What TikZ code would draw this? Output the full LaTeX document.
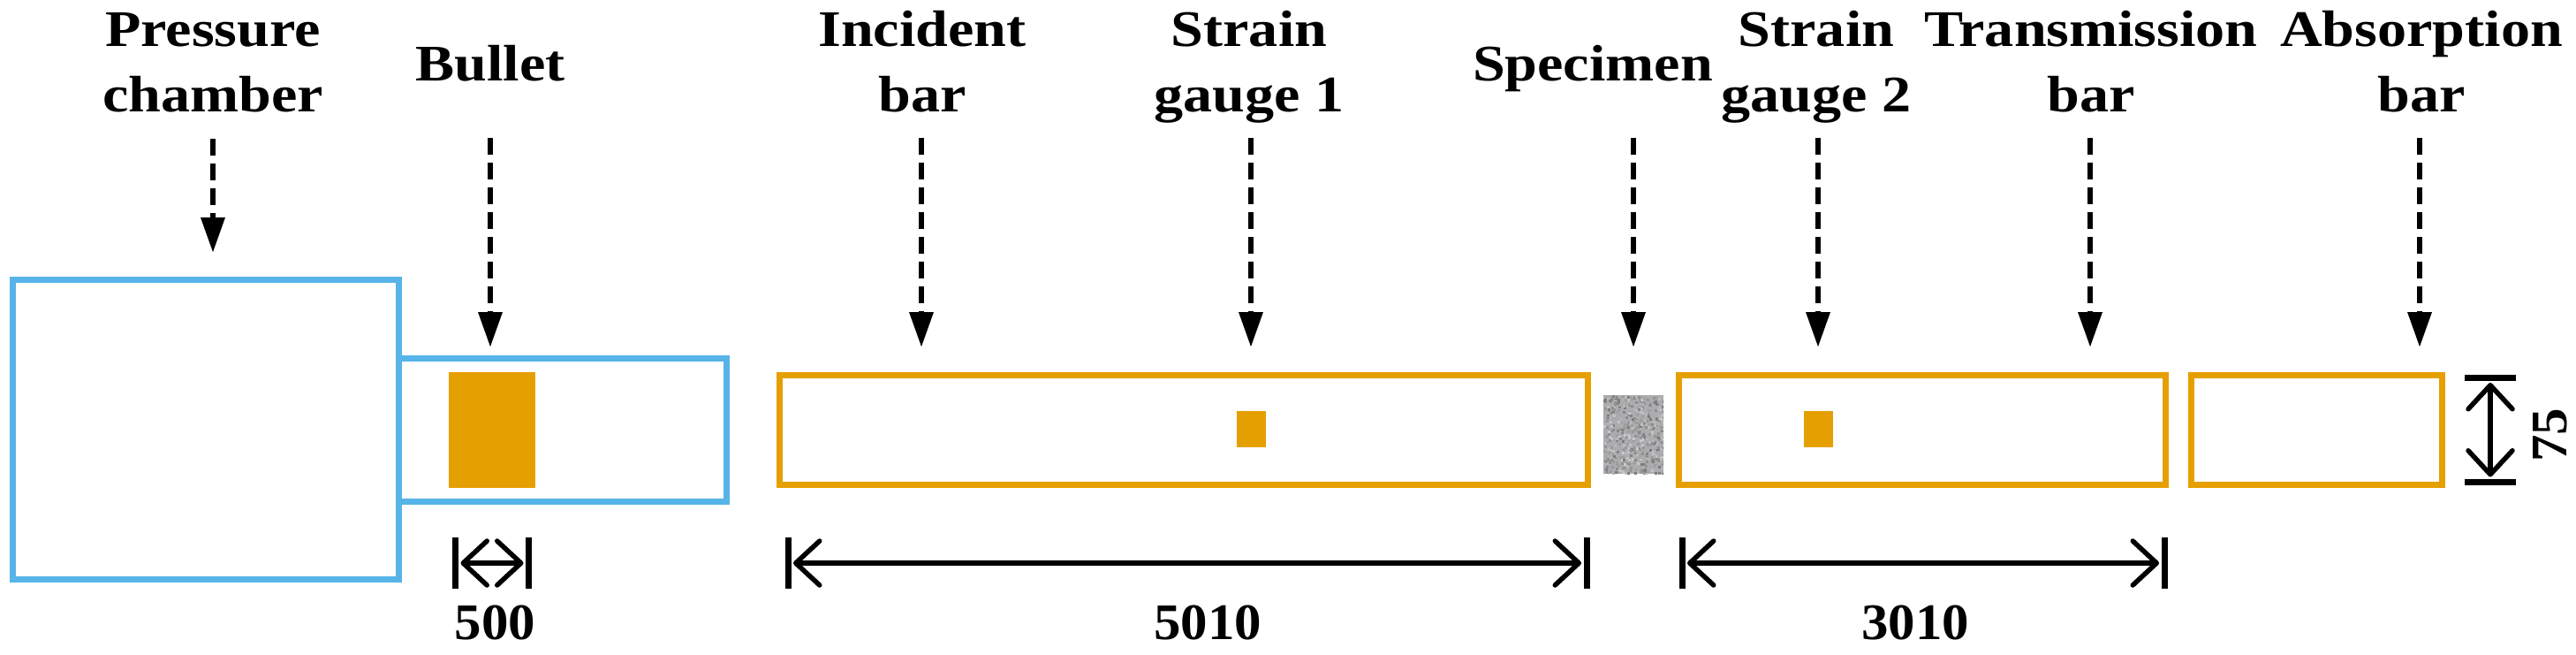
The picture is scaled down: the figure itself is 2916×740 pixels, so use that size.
\documentclass[tikz,border=0pt]{standalone}
\usepackage{fontspec}
\setmainfont[FakeStretch=1.14]{Liberation Serif}
\newfontfamily\numfont[FakeStretch=1.05]{Liberation Serif}
\usetikzlibrary{arrows.meta}
\definecolor{blueline}{RGB}{86,180,233}
\definecolor{orangeline}{RGB}{230,159,0}
\tikzset{
  x=1pt,y=-1pt,
  lbl/.style={font=\fontsize{58}{74}\selectfont\bfseries,align=center,anchor=base,inner sep=0pt,text=black},
  dimlbl/.style={font=\fontsize{58}{74}\selectfont\numfont\bfseries,anchor=base,inner sep=0pt,text=black},
  callout/.style={line width=6.5pt,dash pattern=on 19pt off 9pt,-{Triangle[length=40pt,width=26pt]}},
  dimline/.style={line width=5.5pt,shorten <=6pt,shorten >=6pt,{Straight Barb[length=27pt,width=50pt,line width=5.5pt,round]}-{Straight Barb[length=27pt,width=50pt,line width=5.5pt,round]}},
  tick/.style={line width=7pt},
  boxbase/.style={rectangle,inner sep=0pt,outer sep=0pt},
  bluebox/.style={boxbase,draw=blueline,line width=7pt},
  orangebox/.style={boxbase,draw=orangeline,line width=7pt},
  solidorange/.style={boxbase,fill=orangeline},
}
\newcommand{\boxat}[6]{\node[#1,minimum width={#5-#3},minimum height={#6-#4}] (#2) at ({(#3+#5)/2},{(#4+#6)/2}) {};}
\newcommand{\callat}[4]{% name, x, y-start, y-end
  \coordinate (#1s) at (#2,#3);\coordinate (#1e) at (#2,#4);\draw[callout] (#1s) -- (#1e);}
\newcommand{\dimh}[5]{% name,x1,x2,y,half
  \coordinate (#1a) at (#2,#4);\coordinate (#1b) at (#3,#4);
  \coordinate (#1at) at (#2,#4-#5);\coordinate (#1ab) at (#2,#4+#5);
  \coordinate (#1bt) at (#3,#4-#5);\coordinate (#1bb) at (#3,#4+#5);
  \draw[tick] (#1at) -- (#1ab);\draw[tick] (#1bt) -- (#1bb);
  \draw[dimline] (#1a) -- (#1b);}
\begin{document}
\begin{tikzpicture}
\useasboundingbox (0,0) rectangle (2916,740);
\fill[white] (0,0) rectangle (2916,740);
% blue housings
\boxat{bluebox}{chamber}{14.5}{316.5}{451}{655}
\boxat{bluebox}{tube}{451}{405}{822}{567}
% bullet
\boxat{solidorange}{bullet}{508}{421}{606}{552}
% bars
\boxat{orangebox}{incident}{882}{424.5}{1797}{548.5}
\boxat{orangebox}{transmission}{1900}{424.5}{2451}{548.5}
\boxat{orangebox}{absorption}{2480}{424.5}{2764}{548.5}
\boxat{solidorange}{gaugeone}{1400}{465}{1433}{506}
\boxat{solidorange}{gaugetwo}{2042}{465}{2075}{506}
% specimen
\boxat{boxbase,fill={rgb,255:red,172;green,172;blue,176}}{specimen}{1815}{447}{1883}{536}
\pgfmathsetseed{42}
\begin{scope}
\clip (1815,447) rectangle (1883,536);
\foreach \i in {1,...,540}{
  \pgfmathsetmacro{\px}{1815+68*rnd}
  \pgfmathsetmacro{\py}{447+89*rnd}
  \pgfmathsetmacro{\pg}{20+32*rnd}
  \fill[black!\pg!white] (\px,\py) rectangle (\px+3,\py+3);
}
\end{scope}
% labels
\node[lbl] (lp) at (241,126.5) {Pressure\\chamber};
\node[lbl] (lb) at (555,91.5) {Bullet};
\node[lbl] (li) at (1044,126.5) {Incident\\bar};
\node[lbl] (ls) at (1414,126.5) {Strain\\gauge 1};
\node[lbl] (lsp) at (1803,91.5) {Specimen};
\node[lbl] (lg) at (2056,126.5) {Strain\\gauge 2};
\node[lbl] (lt) at (2367,126.5) {Transmission\\bar};
\node[lbl] (la) at (2741,126.5) {Absorption\\bar};
% callouts
\callat{a}{241}{157}{286}
\callat{b}{555}{156}{393}
\callat{c}{1043}{156}{393}
\callat{d}{1416}{156}{393}
\callat{e}{1849}{156}{393}
\callat{f}{2058}{156}{393}
\callat{g}{2366}{156}{393}
\callat{h}{2739}{156}{393}
% dimensions
\dimh{da}{515.5}{598.5}{637}{29}
\dimh{db}{892}{1796}{637}{29}
\dimh{dc}{1904}{2450}{637}{29}
\coordinate (dvt) at (2819,427);\coordinate (dvb) at (2819,545.5);
\coordinate (dvtl) at (2790,427);\coordinate (dvtr) at (2848,427);
\coordinate (dvbl) at (2790,545.5);\coordinate (dvbr) at (2848,545.5);
\draw[tick] (dvtl) -- (dvtr);\draw[tick] (dvbl) -- (dvbr);
\draw[dimline] (dvt) -- (dvb);
\node[dimlbl] (t500) at (560.5,723) {500};
\node[dimlbl] (t5010) at (1367,723) {5010};
\node[dimlbl] (t3010) at (2168,723) {3010};
\node[dimlbl,rotate=90,anchor=center] (t75) at (2887,492.5) {75};
\end{tikzpicture}
\end{document}
